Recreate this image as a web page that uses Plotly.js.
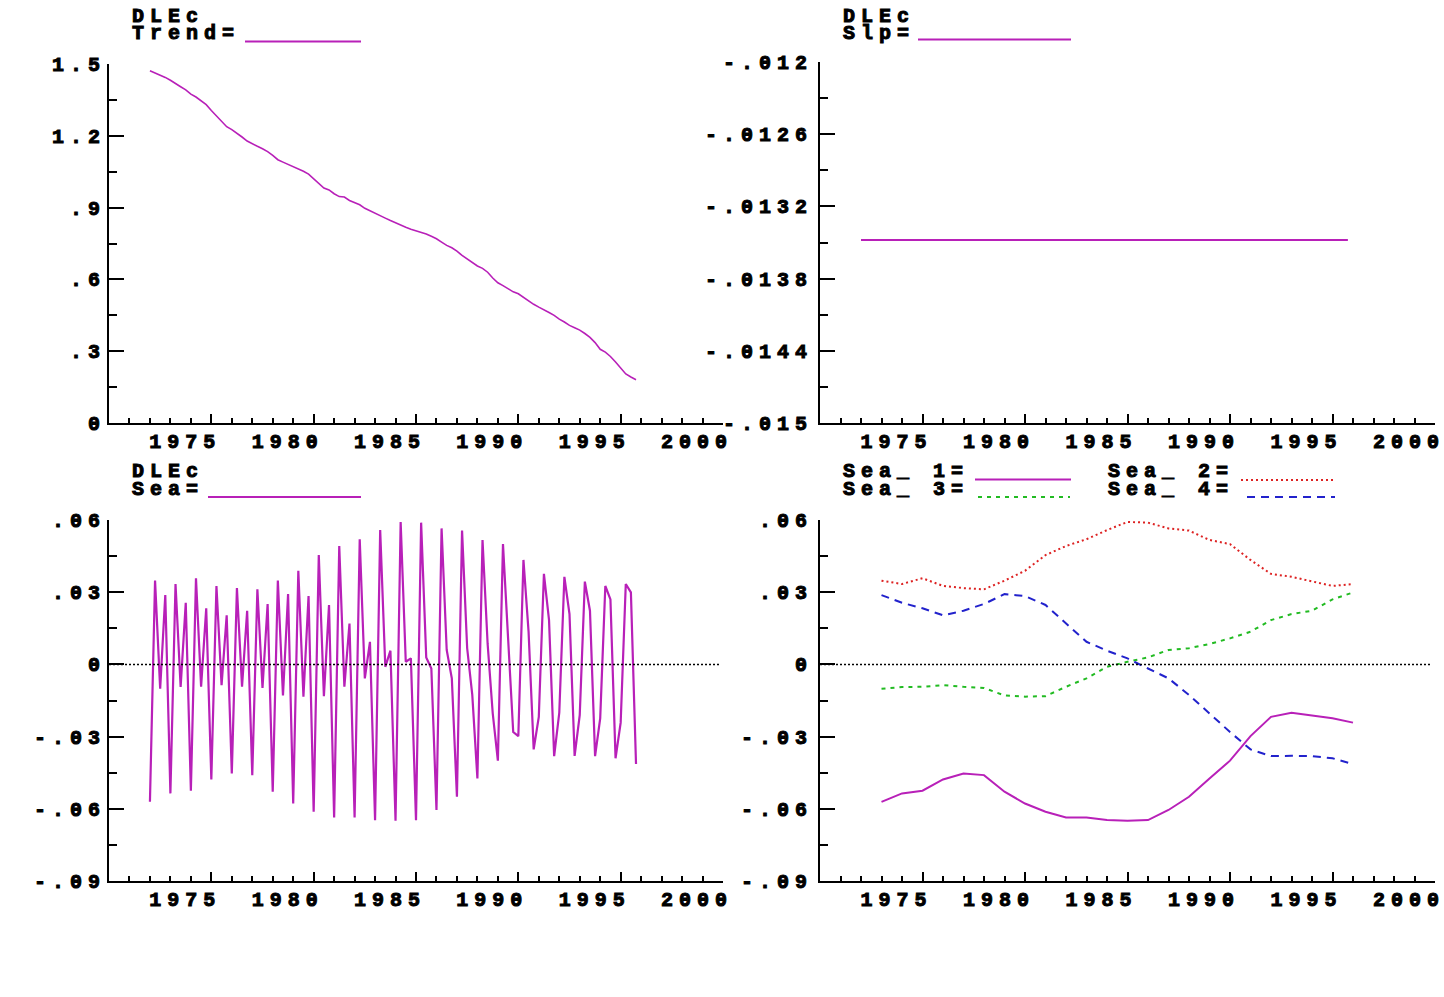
<!DOCTYPE html>
<html><head><meta charset="utf-8">
<script src="https://cdn.plot.ly/plotly-3.0.1.min.js"></script>
<style>
html,body{margin:0;padding:0;background:#fff;}
#chart{width:1444px;height:997px;}
#chart .main-svg text{letter-spacing:6px;stroke:#000;stroke-width:1px;}
</style></head><body><div id="chart"></div>
<script>
// ---------- data ----------
const years = [1972,1973,1974,1975,1976,1977,1978,1979,1980,1981,1982,1983,1984,1985,1986,1987,1988,1989,1990,1991,1992,1993,1994,1995];
const quarterOffsets = [0, 0.25, 0.5, 0.75];
const seaPlotYears = [1973,1974,1975,1976,1977,1978,1979,1980,1981,1982,1983,1984,1985,1986,1987,1988,1989,1990,1991,1992,1993,1994,1995,1996];

const trend = [
 1.472,1.463,1.452,1.444, 1.432,1.420,1.405,1.392, 1.374,1.362,1.346,1.330, 1.306,1.282,1.258,1.238,
 1.226,1.212,1.195,1.178, 1.166,1.156,1.146,1.134, 1.118,1.100,1.090,1.081, 1.072,1.064,1.052,1.040,
 1.022,1.000,0.982,0.974, 0.958,0.946,0.944,0.930, 0.920,0.912,0.897,0.886, 0.876,0.866,0.856,0.846,
 0.836,0.826,0.818,0.810, 0.804,0.798,0.790,0.780, 0.770,0.756,0.742,0.732, 0.718,0.700,0.686,0.670,
 0.656,0.646,0.630,0.606, 0.586,0.574,0.562,0.548, 0.540,0.525,0.508,0.496, 0.484,0.474,0.462,0.450,
 0.434,0.422,0.408,0.398, 0.388,0.374,0.358,0.336, 0.308,0.296,0.278,0.255, 0.230,0.205,0.192,0.181
];
const slopeValue = -0.01348;

const sea1 = [-0.0571,-0.0536,-0.0525,-0.0478,-0.0453,-0.0460,-0.0529,-0.0578,-0.0612,-0.0636,-0.0636,-0.0647,
              -0.0650,-0.0647,-0.0605,-0.0550,-0.0474,-0.0400,-0.0298,-0.0218,-0.0201,-0.0211,-0.0224,-0.0242];
const sea2 = [0.0348,0.0334,0.0358,0.0326,0.0317,0.0312,0.0348,0.0389,0.0454,0.0492,0.0520,0.0558,
              0.0592,0.0589,0.0565,0.0556,0.0517,0.0500,0.0434,0.0376,0.0364,0.0344,0.0326,0.0334];
const sea3 = [-0.0101,-0.0094,-0.0093,-0.0086,-0.0093,-0.0098,-0.0129,-0.0134,-0.0132,-0.0093,-0.0058,-0.0010,
              0.0011,0.0029,0.0060,0.0067,0.0085,0.0108,0.0136,0.0184,0.0209,0.0223,0.0270,0.0299];
const sea4 = [0.0288,0.0256,0.0233,0.0204,0.0223,0.0251,0.0292,0.0284,0.0247,0.0170,0.0094,0.0057,
              0.0025,-0.0017,-0.0058,-0.0127,-0.0204,-0.0281,-0.0353,-0.0381,-0.0380,-0.0381,-0.0390,-0.0414];

const xTickVals = [1975,1980,1985,1990,1995,2000];
const xTickText = ['1975','1980','1985','1990','1995','2000'];
const trendTickVals = [0,0.3,0.6,0.9,1.2,1.5];
const trendTickText = ['0','.3','.6','.9','1.2','1.5'];
const slpTickVals = [-0.015,-0.0144,-0.0138,-0.0132,-0.0126,-0.012];
const slpTickText = ['-.015','-.0144','-.0138','-.0132','-.0126','-.012'];
const seaTickVals = [-0.09,-0.06,-0.03,0,0.03,0.06];
const seaTickText = ['-.09','-.06','-.03','0','.03','.06'];

// ---------- derived series ----------
const quarterDates = [];
years.forEach(y => quarterOffsets.forEach(q => quarterDates.push(y + q)));
const slope = quarterDates.map(() => slopeValue);
const seaCombined = [];
const seaByQuarter = [sea1, sea2, sea3, sea4];
years.forEach((y, i) => seaByQuarter.forEach(s => seaCombined.push(s[i])));

// ---------- styling ----------
const W = 1444, H = 997, LS = 6;
const MAG = '#b820b8', RED = '#dd2222', GRN = '#22bb22', BLU = '#2222cc';
const FONT = {family: 'Liberation Mono, Courier New, monospace', size: 20, color: '#000', weight: 'bold'};
const px = x => x / W, py = y => 1 - y / H;

function xAx(d0, d1, anchor) {
  return {domain: [px(d0), px(d1)], anchor, range: [1970, 2000], tickmode: 'array',
    tickvals: xTickVals, ticktext: xTickText, ticks: 'inside', ticklen: 9, tickwidth: 2, tickcolor: '#000',
    showline: true, linecolor: '#000', linewidth: 2, showgrid: false, zeroline: false, tickangle: 0,
    ticklabelshift: -26, ticklabelstandoff: -1, tickfont: FONT, fixedrange: true,
    minor: {ticks: 'inside', ticklen: 5, tickwidth: 2, tickcolor: '#000', tick0: 1970, dtick: 1, showgrid: false}};
}
function yAx(top, bottom, anchor, range, tv, tt, mdt, standoff) {
  return {domain: [py(bottom), py(top)], anchor, range, tickmode: 'array', tickvals: tv, ticktext: tt,
    ticks: 'inside', ticklen: 15, tickwidth: 2, tickcolor: '#000', showline: true, linecolor: '#000', linewidth: 2,
    showgrid: false, zeroline: false, tickfont: FONT, ticklabelstandoff: standoff, fixedrange: true,
    minor: {ticks: 'inside', ticklen: 8, tickwidth: 2, tickcolor: '#000', tick0: range[0], dtick: mdt, showgrid: false}};
}

const traces = [
  {x: quarterDates, y: trend, xaxis: 'x', yaxis: 'y', mode: 'lines', line: {color: MAG, width: 1.6}},
  {x: quarterDates, y: slope, xaxis: 'x2', yaxis: 'y2', mode: 'lines', line: {color: MAG, width: 2}},
  {x: quarterDates, y: seaCombined, xaxis: 'x3', yaxis: 'y3', mode: 'lines', line: {color: MAG, width: 2.2}},
  {x: seaPlotYears, y: sea1, xaxis: 'x4', yaxis: 'y4', mode: 'lines', line: {color: MAG, width: 2}},
  {x: seaPlotYears, y: sea2, xaxis: 'x4', yaxis: 'y4', mode: 'lines', line: {color: RED, width: 2, dash: '2px,3px'}},
  {x: seaPlotYears, y: sea3, xaxis: 'x4', yaxis: 'y4', mode: 'lines', line: {color: GRN, width: 2, dash: '4px,5px'}},
  {x: seaPlotYears, y: sea4, xaxis: 'x4', yaxis: 'y4', mode: 'lines', line: {color: BLU, width: 2, dash: '8px,6px'}}
];

function label(text, x, yc) {
  return {text, xref: 'paper', yref: 'paper', x: px(x + text.length * LS / 2), y: py(yc), xanchor: 'left', yanchor: 'middle',
    showarrow: false, font: FONT, borderpad: 0};
}
function sample(x0, x1, y, color, dash) {
  return {type: 'line', xref: 'paper', yref: 'paper', x0: px(x0), x1: px(x1), y0: py(y), y1: py(y),
    line: {color, width: 2, dash: dash || 'solid'}};
}

const layout = {
  width: W, height: H, margin: {l: 0, r: 0, t: 0, b: 0}, showlegend: false,
  paper_bgcolor: '#fff', plot_bgcolor: '#fff',
  xaxis: xAx(109, 723, 'y'), yaxis: yAx(64, 423, 'x', [0, 1.5], trendTickVals, trendTickText, 0.15, -3),
  xaxis2: xAx(820, 1435, 'y2'), yaxis2: yAx(62, 423, 'x2', [-0.015, -0.012], slpTickVals, slpTickText, 0.0003, 1),
  xaxis3: xAx(109, 723, 'y3'), yaxis3: yAx(520, 881, 'x3', [-0.09, 0.06], seaTickVals, seaTickText, 0.015, -3),
  xaxis4: xAx(820, 1435, 'y4'), yaxis4: yAx(520, 881, 'x4', [-0.09, 0.06], seaTickVals, seaTickText, 0.015, 1),
  annotations: [
    label('DLEc', 131, 16.5), label('Trend=', 131, 33),
    label('DLEc', 842, 16.5), label('Slp=', 842, 33),
    label('DLEc', 131, 471), label('Sea=', 131, 489.5),
    label('Sea_ 1=', 842, 471), label('Sea_ 3=', 842, 489.5),
    label('Sea_ 2=', 1107, 471), label('Sea_ 4=', 1107, 489.5)
  ],
  shapes: [
    sample(245, 361, 41.5, MAG), sample(918, 1071, 39.5, MAG), sample(208, 361, 497, MAG),
    sample(975, 1071, 479.5, MAG), sample(1241, 1335, 480, RED, '2px,3px'),
    sample(978, 1070, 497, GRN, '4px,5px'), sample(1247, 1335, 497, BLU, '8px,6px'),
    {type: 'line', xref: 'x3 domain', yref: 'y3', x0: 0, x1: 0.995, y0: 0, y1: 0, line: {color: '#000', width: 1.5, dash: '2px,2px'}},
    {type: 'line', xref: 'x4 domain', yref: 'y4', x0: 0, x1: 0.992, y0: 0, y1: 0, line: {color: '#000', width: 1.5, dash: '2px,2px'}}
  ]
};

Plotly.newPlot('chart', traces, layout, {displayModeBar: false, staticPlot: true});
</script></body></html>
